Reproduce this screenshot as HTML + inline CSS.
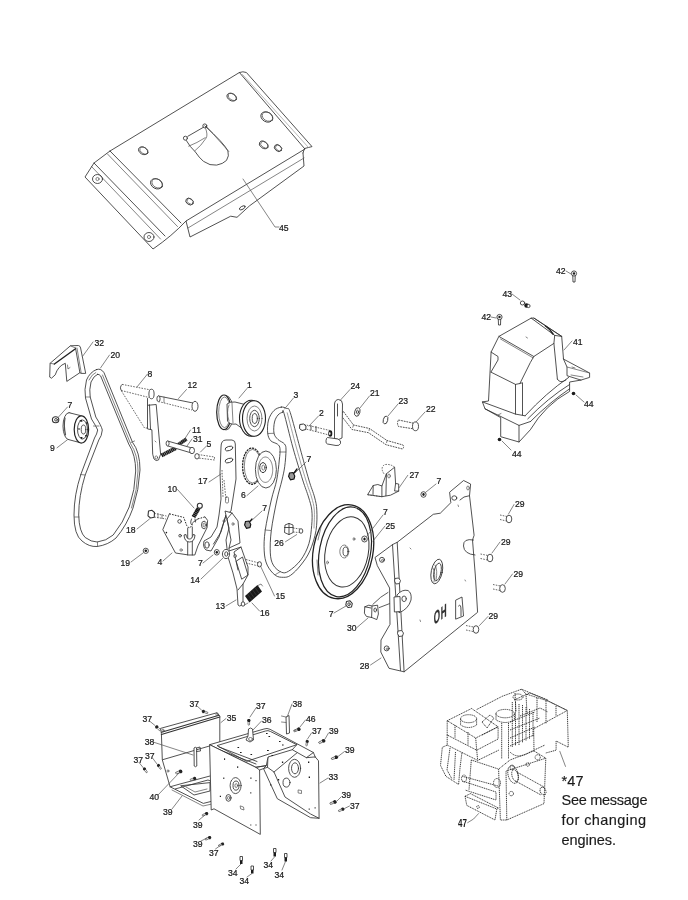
<!DOCTYPE html>
<html><head><meta charset="utf-8">
<style>
html,body{margin:0;padding:0;background:#fff;}
body{width:688px;height:900px;overflow:hidden;position:relative;}
svg{position:absolute;left:0;top:0;will-change:transform}
.l{fill:none;stroke:#333;stroke-width:0.85;stroke-linejoin:round;stroke-linecap:round}
.lt{fill:none;stroke:#505050;stroke-width:0.7;stroke-linejoin:round;stroke-linecap:round}
.f{fill:#fff;stroke:#333;stroke-width:0.85;stroke-linejoin:round}
.d{fill:none;stroke:#444;stroke-width:0.8;stroke-dasharray:1.6 1.2}
.k{fill:#1a1a1a;stroke:none}
text{font-family:"Liberation Sans",sans-serif;font-size:9.8px;letter-spacing:0;fill:#1a1a1a;stroke:#1a1a1a;stroke-width:0.25px}
.big{font-size:14.5px;letter-spacing:0;fill:#1a1a1a;stroke-width:0.15px}
</style></head><body>
<svg width="688" height="900" viewBox="0 0 688 900">
<!-- ===== PART 45 plate ===== -->
<g id="p45">
<path class="l" d="M110,151 L239.4,72.5 L304.5,148.5 L303,153"/>
<path class="l" d="M239.4,72.5 Q243,71 246.4,72.5 L312,146.6 L304.5,148.5"/>
<path class="lt" d="M242.5,74.5 L308.5,147.5" style="stroke:#999"/>
<path class="l" d="M305,149 L186,221 L190,237 L230.7,216.2 L237,217.3 L249.7,205.7 L304,166 L303,153"/>
<path class="lt" d="M304,158 L188,228"/>
<path class="l" d="M110,151 L181,223"/><path class="lt" d="M107.5,154 L177.5,226.5"/>
<path class="l" d="M94,163 L165,236"/><path class="lt" d="M91.5,166.5 L160.5,239"/>
<path class="l" d="M110,151 L94,163 L85,177 L153,249 Q172,236 186,221"/>
<ellipse class="l" cx="97.5" cy="179" rx="5" ry="4.5"/>
<ellipse class="lt" cx="97.5" cy="179" rx="1.6" ry="1.6"/>
<ellipse class="l" cx="149" cy="237" rx="5" ry="4.5"/>
<ellipse class="lt" cx="149" cy="237" rx="1.6" ry="1.6"/>
<g transform="rotate(30 143.2 150.8)"><ellipse class="l" cx="143.2" cy="150.8" rx="5" ry="3.5"/><ellipse class="lt" cx="143.7" cy="150.2" rx="4.5" ry="3"/></g>
<g transform="rotate(30 156.5 183.8)"><ellipse class="l" cx="156.5" cy="183.8" rx="6.3" ry="4.8"/><ellipse class="lt" cx="157" cy="183.1" rx="5.7" ry="4.2"/></g>
<g transform="rotate(35 189.5 201.6)"><ellipse class="l" cx="189.5" cy="201.6" rx="4" ry="3"/><ellipse class="lt" cx="190" cy="201" rx="3.5" ry="2.5"/></g>
<g transform="rotate(30 231.7 97.2)"><ellipse class="l" cx="231.7" cy="97.2" rx="5.1" ry="3.5"/><ellipse class="lt" cx="232.2" cy="96.6" rx="4.6" ry="3"/></g>
<g transform="rotate(30 266.8 117)"><ellipse class="l" cx="266.8" cy="117" rx="6.3" ry="4.8"/><ellipse class="lt" cx="267.3" cy="116.3" rx="5.7" ry="4.2"/></g>
<g transform="rotate(35 263.7 145)"><ellipse class="l" cx="263.7" cy="145" rx="4.8" ry="3.3"/><ellipse class="lt" cx="264.2" cy="144.4" rx="4.2" ry="2.8"/></g>
<g transform="rotate(40 278 148.1)"><ellipse class="l" cx="278" cy="148.1" rx="4" ry="3"/><ellipse class="lt" cx="278.5" cy="147.6" rx="3.5" ry="2.5"/></g>
<path class="l" d="M186.3,140.5 Q190,147 195.3,151.9 Q199,157.5 203.4,161.3 Q210,166 216.6,165.1 Q223,164 226.5,160.4 Q229.5,156 227.9,150.9 Q224,143 204.8,125.9"/>
<path class="lt" d="M206.5,126.5 L228.8,151.5"/>
<path class="l" d="M187.8,136.3 L203.4,127.3"/>
<circle class="l" cx="185.4" cy="138.2" r="2"/>
<circle class="l" cx="204.8" cy="125.9" r="2"/>
<path class="lt" d="M205.5,128 Q208,135 206.2,138 Q201,146 194.8,150.9 M188.7,146.2 Q197,143 205.2,137.7"/>
<ellipse class="l" cx="242.3" cy="207.8" rx="3.2" ry="1.5" transform="rotate(-30 242.3 207.8)"/>
<path class="lt" d="M243,179 L275,227 L279,227"/>
<text class="lb" transform="translate(279.0 230.5) scale(0.88 1)">45</text>
</g>

<!-- ===== PART 41-44 housing ===== -->
<g id="p41">
<text class="lb" transform="translate(556.0 273.5) scale(0.88 1)">42</text>
<path class="lt" d="M566,271 L571,274"/>
<circle class="f" cx="574" cy="273.5" r="2.6"/>
<circle class="k" cx="574" cy="273.5" r="1.2"/>
<path class="l" d="M572.8,276 L573,282 L575,282 L575.2,276"/>
<text class="lb" transform="translate(502.5 297.0) scale(0.88 1)">43</text>
<path class="lt" d="M512,294 L520,300"/>
<ellipse class="l" cx="522.5" cy="303" rx="2.2" ry="2"/>
<circle class="k" cx="526.5" cy="305.5" r="2.2"/>
<circle class="f" cx="528.5" cy="306" r="1.6"/>
<text class="lb" transform="translate(481.5 320.0) scale(0.88 1)">42</text>
<path class="lt" d="M491,317 L496,318"/>
<circle class="f" cx="499.5" cy="317" r="2.6"/>
<circle class="k" cx="499.5" cy="317" r="1.2"/>
<path class="l" d="M498.3,319.5 L498.5,325 L500.5,325 L500.7,319.5"/>
<!-- housing -->
<path class="f" d="M498.9,336.4 L531.2,318.1 L534,318.1 L561.7,336.4 L563.5,359.1 L589.6,373 L589.6,377.4 L580.9,380.1 L569.6,382 L569.6,391.4 Q545,405 530.3,429.8 L519,442 L500.7,436.7 L500.7,417.6 L485,408.8 L482.4,401.9 L488.5,401 L491.1,352.1 Z"/>
<path class="l" d="M498.9,336.4 L533.8,356.5 L553.9,343.4 L554.7,335.4 L531.2,318.1"/>
<path class="lt" d="M500.5,339 L533,357.8"/>
<path class="l" d="M534,318.1 L561.7,336.4 M554.7,335.4 L561.7,336.4 M553.9,343.4 L557.4,379.2"/><path class="l" d="M545.5,326 Q550,329 553,334" style="stroke-width:1.5;stroke:#222"/>
<path class="l" d="M533.8,356.5 L530.3,362.6 L519.9,383.5 L515.5,384.4 L491.1,372.2"/>
<path class="l" d="M519.9,383.5 L522.5,382.7 L522.5,415 M515.5,384.4 L515.5,414.1"/>
<path class="l" d="M491.1,352.1 L498,356.5 L498,360 L491,372"/>
<path class="l" d="M482.4,401.9 L515.5,414.1 L525.1,415.8"/>
<path class="l" d="M485,408.8 L519,425.4 L530.5,421.5 M519,425.4 L519,442"/>
<path class="l" d="M525.1,415.8 Q546,393 568.7,377.4 M527.8,418.8 Q548,398 569.6,384.5 M530.5,421.5 Q550,402 569.6,388.8"/>
<path class="l" d="M557.4,379.2 Q560,384 566,380 M563.5,359.1 L567,367 L567,375.7 L580.9,380.1"/>
<path class="lt" d="M567,367 L589.6,373 M571,375 L583,377"/>
<path class="lt" d="M526,337 L527.5,338 M498,415 L501,413.5 M572,367 L575,368"/>
<text class="lb" transform="translate(573.0 344.5) scale(0.88 1)">41</text>
<path class="lt" d="M572,341 L564,350"/>
<text class="lb" transform="translate(584.0 406.5) scale(0.88 1)">44</text>
<path class="lt" d="M576,395 L584,402"/>
<circle class="k" cx="573.5" cy="393.5" r="1.8"/>
<text class="lb" transform="translate(512.0 456.5) scale(0.88 1)">44</text>
<path class="lt" d="M502,441 L511,450"/>
<circle class="k" cx="499.5" cy="439.5" r="1.8"/>
</g>

<!-- ===== left group 32, 20, 9, 7, 8, 12, 11, 31, 5 ===== -->
<g id="pleft">
<path class="f" d="M50.1,363.3 L70.4,345.8 L78.4,345.5 Q80.5,346 80.6,348 L85.7,373.4 L81.3,373.4 L79.9,372.7 L66.8,381.4 L65.3,363.3 Q58,366 55.2,374.9 L51.5,378.2 L49.7,377.1 Z"/>
<path class="l" d="M54.4,364 L75.5,348.7" style="stroke-width:1.4;stroke:#222"/>
<path class="l" d="M75.5,348 L79.9,372.7"/>
<path class="lt" d="M77,348 L81.3,373.4 M50.1,363.3 L54.4,364 M70.4,345.8 L75.5,348"/>
<path class="lt" d="M67.5,365 L68,369 L70,367.5"/>
<text class="lb" transform="translate(94.5 345.5) scale(0.88 1)">32</text>
<path class="lt" d="M93,342 L82.8,356"/>
<!-- belt 20 -->
<path class="l" d="M96.6,369.5 Q90,372 86.5,380 Q84,390 85.5,398 L91.5,419 Q96,426 97.7,430 Q97,434 94.5,438 L81,474 Q74,495 74,515 Q74,535 82,541 Q89,547 97,546.5 Q108,545 116,538 Q127,525 133,508 Q139,490 140,470 Q140,452 132.5,442.3 L104,372.7 Q101,368 96.6,369.5 Z"/>
<path class="l" d="M97.5,374.3 Q94,375.5 91,382 Q89,390 90.2,397 L95.8,417 Q101.5,426 102.3,430 Q101.8,436 98.8,440 L85.2,475 Q78.7,496 78.7,515 Q79.2,532 85.2,537.5 Q91.2,542 97.2,542 Q106.2,541 113.2,535 Q123.2,523 129.2,507 Q135.2,490 135.7,471 Q135.7,455 128.7,444 L100.7,376 Q99.2,374 97.5,374.3 Z"/>
<path class="lt" d="M102.5,375 L130.5,443.5 Q138,455 138,471 Q137.5,490 131.5,508 M95.8,372.5 Q92,374 89,380"/>
<path class="lt" d="M85.5,397 L90.2,397 M93.5,426 L99,426 M80.5,474.5 L85,475 M74.5,517 L79,517 M97.5,546 L97.5,542 M131,442.5 L134.5,441"/>
<text class="lb" transform="translate(110.5 357.5) scale(0.88 1)">20</text>
<path class="lt" d="M109.5,355 L100.5,368"/>
<!-- pulley 9 -->
<ellipse class="f" cx="69" cy="426.2" rx="6" ry="13.5"/>
<path d="M69,412.7 L81.4,415.8 L81.4,443 L69,439.7 Z" fill="#fff"/>
<path class="l" d="M69,412.7 L81.4,415.8 M69,439.7 L81.4,443"/>
<path class="lt" d="M65,418 Q63.5,426 65.5,435" style="stroke-width:1.2"/>
<ellipse class="f" cx="81.4" cy="429.4" rx="7.2" ry="13.6" style="stroke-width:1.2;stroke:#222"/>
<ellipse class="l" cx="82.5" cy="429.5" rx="5" ry="9.5"/>
<ellipse class="l" cx="83.5" cy="429.5" rx="2.3" ry="4.5"/>
<path class="k" d="M79,421 l2.5,-1.5 l1,2.5 z M80,437 l2.5,0 l-0.5,2.5 z M85.5,423 l1.5,-1 l0.5,2.5 z M85,435 l2,0 l-1,2.5 z M78.5,428 l1,0 l0,2 l-1,0 z"/>
<text class="lb" transform="translate(67.5 407.5) scale(0.88 1)">7</text>
<path class="lt" d="M67.5,407 L58.5,417"/>
<ellipse class="f" cx="55.6" cy="419.8" rx="3.2" ry="3" style="stroke-width:1.1"/>
<ellipse class="l" cx="56" cy="419.8" rx="1.4" ry="1.3"/>
<text class="lb" transform="translate(50.0 451.0) scale(0.88 1)">9</text>
<path class="lt" d="M57,447.8 L67.4,439.8"/>
<!-- part 8 -->
<path class="d" d="M122.2,384.4 L151,390 M121.3,390.5 L149,397.5 M121.5,391 L144.5,428 L147,428"/>
<path class="l" d="M122.2,384.4 Q119,387 121.3,390.5"/>
<ellipse class="f" cx="151.5" cy="394" rx="2.6" ry="4.8"/>
<path class="f" d="M147.5,405.3 L156.2,404.5 L160.6,454.2 L158.5,460 Q156,461.5 154,459 L152.7,454.2 L151.9,429.8 L147.5,428.9 Z"/>
<path class="l" d="M147.5,398.5 L147.5,405.3 M149.5,404.8 L150.5,429.2"/>
<ellipse class="lt" cx="156.3" cy="457.5" rx="1.3" ry="1.6"/>
<path class="lt" d="M155,441 l1,1"/>
<text class="lb" transform="translate(147.5 376.5) scale(0.88 1)">8</text>
<path class="lt" d="M147.5,374 L137,387"/>
<!-- part 12 -->
<path class="l" d="M158.5,396 L193,403"/>
<path class="d" d="M158.5,401.5 L192,410"/>
<ellipse class="f" cx="158.5" cy="398.8" rx="1.6" ry="2.9"/>
<ellipse class="f" cx="195" cy="406.3" rx="3" ry="5"/>
<path class="lt" d="M164,397 L164,402.5"/>
<text class="lb" transform="translate(187.5 388.0) scale(0.88 1)">12</text>
<path class="lt" d="M186.5,389.5 L178.5,398.5"/>
<!-- 11 31 springs -->
<path d="M177,445.5 L186.5,439" stroke="#1a1a1a" stroke-width="3.6" fill="none" stroke-dasharray="1.5 0.3"/>
<path d="M161.5,455.5 L176,448" stroke="#1a1a1a" stroke-width="4" fill="none" stroke-dasharray="1.5 0.3"/>
<path class="f" d="M167.6,441 L192,448 L191.5,453 L167.3,445.8 Z"/>
<ellipse class="f" cx="167.6" cy="443.4" rx="1.5" ry="2.5"/>
<ellipse class="f" cx="192" cy="450.5" rx="2.5" ry="3.2"/>
<text class="lb" transform="translate(192.0 432.5) scale(0.88 1)">11</text>
<path class="lt" d="M190.5,430 L184,440"/>
<text class="lb" transform="translate(193.0 441.5) scale(0.88 1)">31</text>
<path class="lt" d="M192,439 L187,446"/>
<!-- bolt 5 -->
<path class="d" d="M198,454.5 L214.5,457 L214.5,460 L198,458"/>
<ellipse class="f" cx="197" cy="456.3" rx="2.2" ry="2.7"/>
<text class="lb" transform="translate(206.5 446.5) scale(0.88 1)">5</text>
<path class="lt" d="M206.5,446 L200.5,452"/>
</g>

<!-- ===== middle group 1, 3, 6, 17, 10, 18, 4, 19, 14, 13, 16, 15, 26 ===== -->
<g id="pmid">
<!-- pulley 1 -->
<ellipse class="f" cx="226" cy="412.8" rx="7.3" ry="17.2"/>
<ellipse class="f" cx="224" cy="412.3" rx="7.3" ry="17.3" style="stroke-width:1.2;stroke:#222"/><ellipse class="lt" cx="224.5" cy="412.3" rx="5.8" ry="15.3"/>
<path class="f" d="M227,404 Q230,401.5 235,402 L247,405 L247,432 L236,424 Q230,425 227.5,421 Z"/>
<path class="lt" d="M229,405 Q226,412 229,421 M232,403 L233,423"/>
<ellipse class="f" cx="251.3" cy="418.3" rx="11.8" ry="18" style="stroke-width:1.1;stroke:#222"/>
<ellipse class="f" cx="254" cy="418.5" rx="11.5" ry="17.8" style="stroke-width:1.1;stroke:#222"/>
<ellipse class="lt" cx="254.5" cy="418.5" rx="7.5" ry="12.5"/>
<ellipse class="l" cx="254.5" cy="418.5" rx="4.8" ry="8.2"/>
<ellipse class="l" cx="254.8" cy="418.5" rx="2.6" ry="5"/>
<text class="lb" transform="translate(247.0 387.5) scale(0.88 1)">1</text>
<path class="lt" d="M247,388.5 L239,398"/>
<!-- belt 3 -->
<path class="l" d="M281.3,407.1 C283.4,406.8 285.0,407.6 286.5,408.5 C288.0,409.4 287.9,405.8 290.2,412.4 C292.4,419.0 296.9,436.7 300.0,448.0 C303.1,459.3 306.5,471.8 308.9,480.0 C311.3,488.2 313.2,492.0 314.5,497.0 C315.8,502.0 316.6,504.6 316.8,510.2 C317.1,515.8 317.1,523.7 316.0,530.5 C314.9,537.3 312.4,545.1 309.9,550.9 C307.4,556.7 304.0,561.0 300.8,565.1 C297.6,569.2 293.5,573.3 290.6,575.3 C287.7,577.3 286.1,577.3 283.5,577.3 C280.9,577.3 278.0,577.3 275.3,575.3 C272.6,573.3 269.1,569.2 267.2,565.1 C265.3,561.0 264.5,556.7 264.2,550.9 C263.9,545.1 264.0,539.0 265.2,530.5 C266.4,522.0 269.4,508.4 271.3,500.0 C273.2,491.6 275.4,486.7 276.7,480.0 C278.0,473.3 278.8,465.2 279.3,460.0 C279.9,454.8 280.3,451.3 280.0,448.7 C279.7,446.1 279.1,445.5 277.5,444.2 C275.9,442.9 272.3,442.5 270.7,440.7 C269.1,438.9 268.1,436.8 267.7,433.3 C267.3,429.9 267.4,423.8 268.5,420.0 C269.6,416.2 271.9,412.6 274.0,410.5 C276.1,408.4 279.2,407.4 281.3,407.1 Z"/>
<path class="l" d="M282.5,412.3 C283.5,412.0 282.2,407.4 284.0,413.3 C285.8,419.2 289.9,436.9 293.0,448.0 C296.1,459.1 300.1,471.8 302.7,480.0 C305.3,488.2 307.0,492.0 308.5,497.0 C310.0,502.0 311.3,505.5 311.8,510.2 C312.3,514.9 312.2,519.8 311.7,525.4 C311.2,531.0 310.7,537.9 308.9,543.7 C307.1,549.5 304.2,555.4 300.8,560.0 C297.4,564.6 291.8,569.2 288.6,571.2 C285.4,573.2 283.9,573.2 281.4,572.2 C278.8,571.2 275.1,568.3 273.3,565.1 C271.5,561.9 270.6,558.7 270.3,552.9 C270.0,547.1 270.2,539.3 271.3,530.5 C272.4,521.7 275.1,508.4 276.9,500.0 C278.7,491.6 280.7,485.6 282.0,480.0 C283.3,474.4 284.0,471.7 284.7,466.7 C285.4,461.7 286.0,453.8 286.0,450.0 C286.0,446.2 285.8,445.8 284.5,444.0 C283.2,442.2 279.8,441.3 278.0,439.5 C276.2,437.7 274.6,436.2 274.0,433.3 C273.4,430.4 273.8,425.1 274.5,422.0 C275.2,418.9 276.7,416.6 278.0,415.0 C279.3,413.4 281.5,412.6 282.5,412.3 Z"/>
<path class="lt" d="M287.2,412.8 C288.8,418.7 293.4,436.8 296.5,448.0 C299.6,459.2 303.3,471.8 305.8,480.0 C308.3,488.2 310.1,492.0 311.5,497.0 C312.9,502.0 313.9,504.8 314.3,510.0 C314.7,515.2 314.1,525.0 314.0,528.0" style="stroke:#777"/>
<path class="lt" d="M267.8,433.5 L274,433.3 M279.5,452 L285.8,452 M265,530 L271,530.5 M275.5,574.5 L280.5,571.5"/>
<text class="lb" transform="translate(293.5 398.0) scale(0.88 1)">3</text>
<path class="lt" d="M293.5,398 L284.5,409"/>
<!-- pulley 6 -->
<ellipse cx="252.1" cy="466.2" rx="9.5" ry="18.1" fill="#fff" stroke="#222" stroke-width="1.3" stroke-dasharray="2.2 0.8"/>
<ellipse class="lt" cx="252.6" cy="466.2" rx="8.3" ry="16.8"/>
<ellipse class="f" cx="265.9" cy="469.5" rx="10.5" ry="18.5"/>
<ellipse class="lt" cx="265.4" cy="469.7" rx="7.3" ry="12.7" style="stroke-dasharray:1.5 0.8"/>
<ellipse class="l" cx="263" cy="467.6" rx="3.3" ry="5" style="stroke-width:1"/>
<ellipse class="lt" cx="263.3" cy="467.6" rx="1.5" ry="2.5"/>
<text class="lb" transform="translate(241.0 497.5) scale(0.88 1)">6</text>
<path class="lt" d="M247,495.5 L258,486"/>
<!-- part 17 -->
<path class="f" d="M221,447 Q221,440 226,440 L232,440 Q235.5,440.5 235.3,444 L236,479 L231,511 L226,515 L219,537 L211,551 L206,550 Q202.5,547 204,541 L211,537 L217,527 L219,515 L221,499 L220,473 Z"/>
<path class="l" d="M226,515 L221,532 L213.5,544"/>
<ellipse class="l" cx="207" cy="545" rx="2.2" ry="3.2"/>
<ellipse class="l" cx="229" cy="448.5" rx="4" ry="2.1" transform="rotate(-18 229 448.5)"/>
<ellipse class="l" cx="229" cy="460.5" rx="4" ry="2.1" transform="rotate(-18 229 460.5)"/>
<path class="d" d="M222,470 L223,497 M224,480 L226,500"/>
<rect class="lt" x="225.5" y="497" width="3" height="6" rx="1.2"/>
<ellipse class="lt" cx="224" cy="521" rx="1" ry="1.3"/>
<text class="lb" transform="translate(198.0 484.0) scale(0.88 1)">17</text>
<path class="lt" d="M209,482 L221,474"/>
<!-- part 13 -->
<path class="f" d="M225,511 L232,513 L238,521 L240,543 L229,548 L229,551 L241,547 L248,567 L248,575 L243,584 L243,603 Q242,606 239.5,606 L238,605 L237,589 L233,573 L228,557 L226,540 L229,528 Z"/>
<path class="l" d="M232,513 L227,519 L231,540 L229,548 M241,547 L234,552 L238,570 M243,584 L238,590"/>
<path class="l" d="M236.5,561 L242.5,557 L248,575 L242,579 Z"/>
<ellipse class="lt" cx="235" cy="556" rx="1.3" ry="1.8"/>
<ellipse class="lt" cx="233" cy="524" rx="1" ry="1.4"/>
<!-- washer 14, nut 7 -->
<ellipse class="f" cx="226" cy="554" rx="3.6" ry="4.6"/>
<ellipse class="l" cx="226.3" cy="554" rx="1.6" ry="2.2"/>
<ellipse class="f" cx="216.8" cy="552.3" rx="2.5" ry="2.8"/>
<ellipse class="k" cx="216.8" cy="552.3" rx="1.2" ry="1.4"/>
<text class="lb" transform="translate(198.0 566.0) scale(0.88 1)">7</text>
<path class="lt" d="M203,563 L213,555"/>
<text class="lb" transform="translate(190.3 582.5) scale(0.88 1)">14</text>
<path class="lt" d="M201,579 L223,558"/>
<!-- pin 15 -->
<path class="d" d="M246,559.5 L259,563 M246,563 L258.5,566"/>
<ellipse class="f" cx="259.5" cy="564.3" rx="2" ry="2.6"/>
<text class="lb" transform="translate(275.5 599.0) scale(0.88 1)">15</text>
<path class="lt" d="M274.5,596 L260.5,566"/>
<!-- spring 16 -->
<path class="k" d="M245,596 L257.5,585 L262,591.5 L249.5,602.5 Z"/>
<path d="M247.5,594 l4,5.5 M250,592 l4,5.5 M252.5,589.8 l4,5.5 M255,587.6 l4,5.5" stroke="#666" stroke-width="0.35" fill="none"/>
<path class="lt" d="M258,585.5 L261,584 L262.5,586 M248,603 L244.5,605"/>
<ellipse class="f" cx="243" cy="604" rx="1.8" ry="2.2"/>
<text class="lb" transform="translate(215.5 609.0) scale(0.88 1)">13</text>
<path class="lt" d="M226,606 L236,600"/>
<text class="lb" transform="translate(260.0 615.5) scale(0.88 1)">16</text>
<path class="lt" d="M259.5,611 L252,603"/>
<!-- part 4 -->
<path class="f" d="M169.4,513.8 L183.7,517.4 L186.7,525.5 Q188.5,528 189.8,527.6 Q191.5,527 192.8,522.5 L197.9,518.9 L205,516.9 L207.6,520.4 L207.1,527.6 L197.9,545.9 L194.8,555 L188.7,555 L175.5,553 L162.8,529.6 Z" style="stroke:#fff"/>
<path class="l" d="M192.8,522.5 L197.9,518.9 M205,516.9 L207.6,520.4 L207.1,527.6 L197.9,545.9 L194.8,555 L188.7,555 L175.5,553 L162.8,529.6 L169.4,513.8"/>
<path class="d" d="M169.4,513.8 L183.7,517.4 L186.7,525.5 Q188.5,528 189.8,527.6 Q191.5,527 192.8,522.5 M197.9,518.9 L205,516.9" style="stroke:#222;stroke-width:1"/>
<path class="l" d="M187.7,528 L187.7,555 M192.3,527 L192.3,555"/>
<path class="f" d="M184,535 Q184.5,542 189.5,542 Q194.5,542 195,535 L193,534.5 Q192.5,539 189.5,539 Q186.5,539 186,534.5 Z"/>
<circle class="l" cx="179.6" cy="521.4" r="1.8"/>
<circle class="k" cx="166.4" cy="532.6" r="0.8"/>
<circle class="l" cx="180.1" cy="535.7" r="1.3"/>
<circle class="lt" cx="181.1" cy="550" r="1.2"/>
<ellipse class="l" cx="204" cy="525" rx="2.5" ry="3.8"/>
<ellipse class="lt" cx="204.2" cy="525" rx="1.2" ry="2"/>
<text class="lb" transform="translate(157.6 565.0) scale(0.88 1)">4</text>
<path class="lt" d="M163,561 L172,553"/>
<!-- spring 10 -->
<path d="M193.5,517 L198.5,508.5" stroke="#111" stroke-width="4.2" fill="none" stroke-dasharray="1.5 0.25"/>
<ellipse class="l" cx="199.8" cy="505.8" rx="2.5" ry="2.6" style="stroke-width:1.1"/>
<path class="l" d="M191.5,519 Q189.5,524 192,525 M195,519 L195.5,522"/>
<text class="lb" transform="translate(167.5 492.0) scale(0.88 1)">10</text>
<path class="lt" d="M177.5,489.5 L194,508"/>
<!-- bolt 18 -->
<path class="d" d="M154.2,513.3 L166.4,516 M154.2,517 L166,519"/>
<path class="lt" d="M158,513.5 L158,517.8 M162,514.5 L162,518.5"/>
<path class="f" d="M148.5,511 L152,510.3 L154.5,512.5 L154.2,517.3 L150.5,518 L148,515.8 Z" style="stroke-width:1.1"/>
<text class="lb" transform="translate(126.0 532.5) scale(0.88 1)">18</text>
<path class="lt" d="M137,529 L149.5,519"/>
<!-- nut 19 -->
<ellipse class="f" cx="145.8" cy="550.8" rx="2.6" ry="2.6"/>
<ellipse class="k" cx="145.8" cy="550.8" rx="1.3" ry="1.3"/>
<text class="lb" transform="translate(120.5 566.0) scale(0.88 1)">19</text>
<path class="lt" d="M131,562 L143,553"/>
<!-- nut 7 (left of 26) -->
<path d="M245.5,521.5 L249,521 L250.8,524.5 L250,527.5 L246.5,528.3 L244.6,525 Z" fill="#999" stroke="#111" stroke-width="1.1"/><path class="l" d="M250,521.5 L252,519" style="stroke-width:1.3;stroke:#111"/>
<text class="lb" transform="translate(262.3 510.5) scale(0.88 1)">7</text>
<path class="lt" d="M262,511 L250,522"/>
<!-- nut 7 right of belt -->
<path d="M289.5,473 L293,472.5 L294.8,476 L294,479 L290.5,479.8 L288.6,476.5 Z" fill="#999" stroke="#111" stroke-width="1.1"/><path class="l" d="M294,473 L297,469" style="stroke-width:1.3;stroke:#111"/>
<text class="lb" transform="translate(306.5 462.0) scale(0.88 1)">7</text>
<path class="lt" d="M306,462 L295,473"/>
<!-- part 26 -->
<path class="f" d="M285,525 L289,523.4 L293,525 L293.1,532.5 L289,534.6 L284.5,532.5 Z"/>
<path class="l" d="M289,523.4 L289,534.6 M284.5,527.5 L293,527.5"/>
<path class="d" d="M293,528 L300,529 M293,532 L300,532.6"/>
<ellipse class="f" cx="301" cy="531" rx="1.8" ry="2.3"/>
<text class="lb" transform="translate(274.3 545.5) scale(0.88 1)">26</text>
<path class="lt" d="M285.5,541.7 L296.7,534.6"/>
</g>

<!-- ===== right-mid group 2, 24, 21, 23, 22, 27, 25, 28, 29, 30 ===== -->
<g id="pright">
<!-- bolt 2 -->
<path class="d" d="M304,424.5 L330,430.5 M304,428.5 L329,435"/>
<path class="f" d="M299.8,424.5 L303.5,424 L306,426 L305.8,429.5 L302,430.5 L299.5,428.5 Z" style="stroke-width:1"/>
<path class="l" d="M311,425.5 L311,430 M316,426.5 L316,431"/>
<ellipse class="k" cx="330.3" cy="433.5" rx="2" ry="3.3"/><ellipse cx="329.8" cy="433.5" rx="0.7" ry="1.6" fill="#fff"/>
<text class="lb" transform="translate(319.0 415.5) scale(0.88 1)">2</text>
<path class="lt" d="M318.5,416 L309,426"/>
<!-- part 24 -->
<path d="M341.5,416 L352,429.5 L368.5,432.7 L386,444.7 L402.5,449 Q404.5,447 403,445 L387,440.5 L369.5,428.5 L353.5,425 L343,411 Z" fill="#fff" stroke="#333" stroke-width="0.85" stroke-dasharray="1.8 0.9"/>
<path class="lt" d="M352.8,427.3 L353.5,425 M369.1,430.6 L369.5,428.5 M386.6,442.6 L387,440.5"/>
<path class="f" d="M334.5,438.5 L334.5,404 Q335,399.5 338.7,399.5 Q342.5,400 342.5,404 L342,438 Q338.5,441 334.5,438.5 Z"/>
<path class="l" d="M337.5,404 L337.5,416"/>
<path class="f" d="M327.5,437.5 L338,439 Q341.5,440.5 340.5,443.5 Q339.5,446 336,445.5 L327.5,444 Q325.5,443.5 326,440.5 Q326.5,437.5 327.5,437.5 Z"/>
<text class="lb" transform="translate(350.5 388.5) scale(0.88 1)">24</text>
<path class="lt" d="M350,389.5 L340.5,400"/>
<!-- washers -->
<ellipse class="f" cx="357.3" cy="412" rx="2.6" ry="4.4" transform="rotate(15 357.3 412)"/>
<ellipse class="l" cx="357.5" cy="412" rx="1" ry="1.8"/>
<text class="lb" transform="translate(370.0 395.6) scale(0.88 1)">21</text>
<path class="lt" d="M369.5,396 L360,408"/>
<ellipse class="f" cx="385.5" cy="420" rx="2.2" ry="4" transform="rotate(15 385.5 420)"/>
<text class="lb" transform="translate(398.5 404.2) scale(0.88 1)">23</text>
<path class="lt" d="M398,404 L388,416"/>
<!-- pin 22 -->
<path d="M398.5,420 L415,423.5 L414.5,429 L398.5,426.5 Q396.5,423 398.5,420 Z" fill="#fff" stroke="#333" stroke-width="0.85" stroke-dasharray="1.8 0.9"/>
<ellipse class="f" cx="415.5" cy="426.3" rx="3" ry="4.4"/>
<text class="lb" transform="translate(426.0 411.8) scale(0.88 1)">22</text>
<path class="lt" d="M425,412 L416,422"/>
<!-- part 27 -->
<path class="f" d="M367.6,494.7 L373.2,485.5 L377.8,484.5 L381.9,486 L386.4,473.8 L394.6,467.2 L395.6,483.5 L398.7,484 L398.7,491.1 L390.5,495.2 L381.9,496.7 Z"/>
<path class="l" d="M381.9,486 L381.9,496.7 M386.4,473.8 L385.9,495.7 M373.2,485.5 L373,494.5 M395.6,483.5 L394.6,491 L398.7,491.1"/>
<path class="d" d="M384,473.8 Q380,468 384.4,464.7 Q390,463.5 394.6,467.2 M367.6,494.7 L381.9,496.7"/>
<ellipse class="lt" cx="389" cy="476" rx="1.3" ry="2"/>
<text class="lb" transform="translate(409.5 477.5) scale(0.88 1)">27</text>
<path class="lt" d="M407.8,475.3 L399.2,487.6"/>
<!-- nut 7 -->
<ellipse class="f" cx="423.5" cy="494.5" rx="2.6" ry="2.8"/>
<ellipse class="k" cx="423.5" cy="494.5" rx="1.2" ry="1.4"/>
<text class="lb" transform="translate(436.5 484.0) scale(0.88 1)">7</text>
<path class="lt" d="M436,484 L426,492"/>
<!-- pulley 25 -->
<g transform="rotate(11 343 551.7)">
<ellipse class="l" cx="343.1" cy="551.7" rx="29.8" ry="47.5" style="stroke-width:1.3;stroke:#222"/>
<ellipse class="l" cx="345" cy="551.5" rx="25.5" ry="45.5" style="stroke-width:1.2;stroke:#222"/>
<ellipse class="l" cx="346.8" cy="551.2" rx="21.5" ry="35.5" style="stroke-width:1;stroke:#333"/>
</g>
<path class="lt" d="M318,540 L321,527 M317,560 L318,575"/>
<ellipse class="lt" cx="344.3" cy="551.5" rx="4.5" ry="6.5"/>
<ellipse class="l" cx="345.5" cy="551.5" rx="2.5" ry="4.5"/>
<ellipse class="lt" cx="354" cy="539" rx="0.9" ry="1.4"/>
<ellipse class="lt" cx="327.5" cy="562.5" rx="0.9" ry="1.4"/>
<ellipse class="f" cx="364.5" cy="539" rx="2.8" ry="3"/>
<ellipse class="k" cx="364.5" cy="539" rx="1.2" ry="1.5"/>
<text class="lb" transform="translate(383.0 515.0) scale(0.88 1)">7</text>
<path class="lt" d="M383,515 L367,536"/>
<text class="lb" transform="translate(385.5 528.5) scale(0.88 1)">25</text>
<path class="lt" d="M385,526 L373,541"/>
<path class="f" d="M346.5,601.5 L350,600.8 L352.3,603.5 L351.5,607 L348,607.5 L345.8,605 Z" style="stroke-width:1.1"/>
<ellipse class="l" cx="349" cy="604.2" rx="1.2" ry="1.5"/>
<text class="lb" transform="translate(328.8 617.0) scale(0.88 1)">7</text>
<path class="lt" d="M334,613 L346,606"/>
<!-- part 30 -->
<path class="lt" d="M372.8,604.4 Q381,596 388,592.4 M379.2,607.6 L389.6,603.6" style="stroke:#333;stroke-width:0.8"/>
<path class="f" d="M364.8,606.8 L368.8,605.2 L372,606 L377.6,605.2 L378.4,614 L376.8,619.6 L372,617.6 L366.4,616.4 L364.4,613.2 Z"/>
<path class="l" d="M372,606 L371.6,617.6 M364.8,606.8 L371,608"/>
<ellipse class="l" cx="375.2" cy="610" rx="1.3" ry="2"/>
<text class="lb" transform="translate(347.0 631.0) scale(0.88 1)">30</text>
<path class="lt" d="M357,627.5 L368,618"/>
<!-- plate 28 -->
<path class="f" d="M397.2,542.3 L433.3,514.3 L440.3,513.2 L450.8,502.7 L449.6,492.2 L463.6,480.5 L470.6,484 L469.5,495.7 L474.1,535.3 L472.5,540 L475.3,575 L477.6,612.3 L404.1,671.8 L389,668.3 L380.8,652 L381,640 L390,624.4 L389.6,588 L377.3,565.6 L375,557.5 L392.5,544.6 Z"/>
<path class="l" d="M392.5,544.6 L400.5,670.5 M397.2,542.3 L404.1,671.8"/>
<path class="l" d="M469.5,495.7 L464,497 L460,500"/>
<ellipse class="l" cx="436.8" cy="571.5" rx="5.5" ry="12.5" transform="rotate(12 436.8 571.5)"/>
<ellipse class="l" cx="437.5" cy="572" rx="3.5" ry="9" transform="rotate(12 437.5 572)"/>
<path class="lt" d="M435,565 Q438,570 436,580 M433,568 Q436,574 434,582"/>
<path class="l" d="M473.5,540 Q463,538 463.5,546 Q464,554 475,555"/>
<path class="l" d="M456,600 L462,597 L463.5,616 L456,619 Z M458.5,606 Q461,603 461,610 L461,616"/>
<text x="0" y="0" transform="translate(433.8 625) skewY(-36) scale(0.45 1)" style="font-size:18px;font-weight:bold;letter-spacing:1.5px;fill:#333">OH</text>
<path class="f" d="M397,595 Q402,589 408,590.5 Q412,593 411,600 Q408.5,609 399,612.8 Z"/>
<ellipse class="l" cx="404.1" cy="598.8" rx="2.2" ry="2.8"/>
<path class="f" d="M394,597 L400,596.5 L400.4,611.5 L394.4,612 Z"/>
<path class="f" d="M395,578.5 L398.5,578 L400.5,580.5 L399.5,583.5 L396,584 L394.5,581 Z"/>
<path class="f" d="M398,631 L401.5,630.5 L403.5,633 L402.5,636 L399,636.5 L397.5,633.5 Z"/>
<ellipse class="l" cx="382" cy="559.8" rx="2.5" ry="2.5"/>
<ellipse class="lt" cx="382.5" cy="560.3" rx="1" ry="1"/>
<ellipse class="l" cx="386.7" cy="648.4" rx="2.5" ry="2.5"/>
<ellipse class="lt" cx="387.2" cy="648.9" rx="1" ry="1"/>
<ellipse class="l" cx="454.3" cy="498" rx="2.5" ry="2.2"/>
<ellipse class="lt" cx="468" cy="488" rx="1.3" ry="2"/>
<path class="lt" d="M410,548 l1,1 M458,505 l0.5,1.5 M465,580 l0.5,1 M420,620 l0.5,1.5"/>
<text class="lb" transform="translate(359.8 668.5) scale(0.88 1)">28</text>
<path class="lt" d="M370.5,665 L381,658"/>
<!-- bolts 29 -->
<path class="d" d="M500,515 L507,516.5 M500,519.5 L506.5,521"/>
<ellipse class="f" cx="509" cy="519" rx="2.8" ry="3.8"/>
<text class="lb" transform="translate(515.0 507.0) scale(0.88 1)">29</text>
<path class="lt" d="M514,504.5 L508.5,514"/>
<path class="d" d="M480.5,554 L488,555.5 M480.5,558.5 L487.5,560"/>
<ellipse class="f" cx="490" cy="558" rx="2.8" ry="3.8"/>
<text class="lb" transform="translate(501.0 544.5) scale(0.88 1)">29</text>
<path class="lt" d="M500,542 L492,553"/>
<path class="d" d="M493,584.5 L500.5,586 M493,589 L500,590.5"/>
<ellipse class="f" cx="502.5" cy="588.5" rx="2.8" ry="3.8"/>
<text class="lb" transform="translate(513.5 576.5) scale(0.88 1)">29</text>
<path class="lt" d="M512.5,574 L505,584"/>
<path class="d" d="M466,625.5 L473.5,627 M466,630 L473,631.5"/>
<ellipse class="f" cx="476" cy="629.5" rx="2.8" ry="3.8"/>
<text class="lb" transform="translate(488.5 619.0) scale(0.88 1)">29</text>
<path class="lt" d="M488,616.5 L479.5,625.5"/>
</g>

<!-- ===== bottom group 33-40, 46 ===== -->
<g id="pbot">
<!-- part 35 shield -->
<path class="f" d="M160.5,728.4 L217.2,712.7 L219.8,716.2 L219.8,742.3 L210.2,745.8 L162.3,759.8 L161.4,733.6 Z"/>
<path class="l" d="M161.4,734.5 L219.8,717 M161.5,732.3 L219,715.3" style="stroke-width:1.1"/>
<ellipse class="lt" cx="163" cy="730.5" rx="1" ry="1.5"/>
<ellipse class="lt" cx="217" cy="714.5" rx="1" ry="1.5"/>
<text class="lb" transform="translate(226.8 721.4) scale(0.88 1)">35</text>
<path class="lt" d="M226,718.5 L221,722.5"/>
<!-- part 39 bottom plate -->
<path class="f" d="M162.3,759.8 L170.1,786.8 L203.3,803.4 L212.9,801 L212.9,782 L208,780 L175,789"/>
<path class="l" d="M170.1,786.8 L180,784 L210,776"/>
<path class="l" d="M181,786 L194,795 L210,791 L210,783 Z"/>
<path class="lt" d="M186,787 L195,792 L207,789"/>
<path class="lt" d="M172,790 L203,806 L212,804"/>
<ellipse class="lt" cx="168" cy="771" rx="0.9" ry="1.2"/>
<g transform="translate(194.5 778.5) rotate(-20) scale(0.9)"><path d="M-1.6,-1.3 L0.2,-2 L1.8,-1 L1.8,1.1 L0.2,2 L-1.6,1.3 Z" fill="#222"/><path d="M-1.6,-0.9 L-4.8,-0.8 Q-5.6,0 -4.8,0.8 L-1.6,0.9" fill="#fff" stroke="#333" stroke-width="0.65"/></g>
<!-- part 38 pin (left) -->
<path class="f" d="M194,748 Q195.3,746.5 196.6,748 L196.8,766 Q195.5,767.5 194.2,766 Z"/><path class="l" d="M196.5,748 L200,747 L200.5,751 L196.6,751.5"/>
<text class="lb" transform="translate(144.8 744.5) scale(0.88 1)">38</text>
<path class="lt" d="M153,742 L193,755"/>
<!-- housing 33 -->
<path class="f" d="M268,755.6 L292.3,747.7 L315.2,756.9 L318.5,760.8 L319.1,818.3 L310.6,817.7 L277.3,798.7 L270.1,783 L263.5,768.6 L267.5,767.3 Z"/>
<path class="l" d="M267.5,767.3 L274,772 L285,797 L310.6,814 L319.1,818.3 M274,772 L298,752 L315.2,756.9"/>
<path class="f" d="M209.6,744.7 L264,729 Q267,727.8 270,729.3 L313.4,752.5 L315.2,756.9 L306.4,757.7 L292.3,749.7 L268,757 L266.3,765.6 L255.8,767.3 Z"/>
<path class="l" d="M217.4,745.5 L265.5,731 Q268,730 270.5,731.5 L296.8,744.7 L266,755 L247.1,761.2 Z"/>
<path class="l" d="M216,748.5 L256,764 M219,747 L257,761.5"/>
<path class="l" d="M292.3,749.7 L296.8,744.7 M306.4,757.7 L313.4,752.5"/>
<path class="f" d="M209.6,744.7 L255.8,767.3 L259.6,770 L260.3,834.4 L214,808.8 L211.2,810 Z"/>
<path class="l" d="M255.8,767.3 L266.3,765.6 L263.5,768.6 L259.6,770"/>
<path class="k" d="M237.5,747 h1.6v1h-1.6z M240,752 h1.6v1h-1.6z M250.5,754 h1.6v1h-1.6z M267,750 h1.8v1h-1.8z M271.5,755 h1.6v1h-1.6z M279,741 h1.6v1h-1.6z M282,744.5 h1.6v1h-1.6z M266,733 h1.6v1h-1.6z M268.5,736 h1.6v1h-1.6z"/>
<ellipse class="l" cx="235.6" cy="785.6" rx="5.5" ry="8"/>
<ellipse class="l" cx="236" cy="785.6" rx="3" ry="4.6"/>
<ellipse class="lt" cx="236.2" cy="785.6" rx="1.3" ry="2"/>
<ellipse class="l" cx="228.5" cy="797.9" rx="2.6" ry="3.4"/>
<ellipse class="lt" cx="228.7" cy="797.9" rx="1.2" ry="1.6"/>
<path class="lt" d="M240.5,806 l3,1 l0.5,3 l-3,-1 z"/>
<ellipse class="l" cx="294.6" cy="768.3" rx="6" ry="9"/>
<ellipse class="l" cx="295" cy="768.3" rx="3.5" ry="5.5"/>
<ellipse class="l" cx="286.5" cy="782.6" rx="3.5" ry="4.5"/>
<path class="lt" d="M298.5,790 l3,0.5 l0,3 l-3,-0.5 z"/>
<path class="k" d="M224.1,758.3 h1v1.8h-1z M237.2,766.2 h1v1.8h-1z M223.3,777.5 h1v1.4h-1z M250.3,777.5 h1.2v1.2h-1.2z M255.5,780.1 h1v1.2h-1z M219.8,795.8 h1.2v1.3h-1.2z M250.3,792.3 h1v1.2h-1z M250.3,824.6 h1v1h-1z M255.5,824.6 h1v1h-1z M281.9,761.4 h1.3v1.5h-1.3z M308.0,761.4 h1.3v1.5h-1.3z M308.7,776.5 h1.3v1.5h-1.3z M277.9,779.1 h1.3v1.5h-1.3z M270.1,784.3 h1.2v1.3h-1.2z M308.7,808.5 h1v1.2h-1z M314.6,807.2 h1v1.2h-1z"/>
<!-- part 36 -->
<path class="f" d="M248.5,729 Q250.5,727 252.5,729 L253.5,740 L250,742 L246,740 L248,736 Z"/>
<ellipse class="lt" cx="250.5" cy="739" rx="2" ry="1.5"/>
<text class="lb" transform="translate(262.0 723.0) scale(0.88 1)">36</text>
<path class="lt" d="M261.5,721 L253,730"/>
<!-- part 38 right -->
<path class="f" d="M286,717 L289,715.5 L289.5,733 L286.5,734 Z"/>
<path class="lt" d="M281.5,716 L286,717 M281.5,722 L286,722.5"/>
<text class="lb" transform="translate(292.5 706.5) scale(0.88 1)">38</text>
<path class="lt" d="M292,704 L287.5,716"/>
<!-- screws -->
<g transform="translate(248.8 720.5) rotate(-90) scale(0.9)"><path d="M-1.6,-1.3 L0.2,-2 L1.8,-1 L1.8,1.1 L0.2,2 L-1.6,1.3 Z" fill="#222"/><path d="M-1.6,-0.9 L-4.8,-0.8 Q-5.6,0 -4.8,0.8 L-1.6,0.9" fill="#fff" stroke="#333" stroke-width="0.65"/></g>
<text class="lb" transform="translate(256.0 708.5) scale(0.88 1)">37</text>
<path class="lt" d="M256,708 L250,717"/>
<g transform="translate(298.7 729.3) rotate(-20) scale(1.0)"><path d="M-1.6,-1.3 L0.2,-2 L1.8,-1 L1.8,1.1 L0.2,2 L-1.6,1.3 Z" fill="#222"/><path d="M-1.6,-0.9 L-4.8,-0.8 Q-5.6,0 -4.8,0.8 L-1.6,0.9" fill="#fff" stroke="#333" stroke-width="0.65"/></g>
<path class="lt" d="M296,730 l-2,1"/>
<text class="lb" transform="translate(306.0 721.5) scale(0.88 1)">46</text>
<path class="lt" d="M305.5,720 L300,727"/>
<g transform="translate(307.2 741.5) rotate(-80) scale(0.85)"><path d="M-1.6,-1.3 L0.2,-2 L1.8,-1 L1.8,1.1 L0.2,2 L-1.6,1.3 Z" fill="#222"/><path d="M-1.6,-0.9 L-4.8,-0.8 Q-5.6,0 -4.8,0.8 L-1.6,0.9" fill="#fff" stroke="#333" stroke-width="0.65"/></g>
<text class="lb" transform="translate(312.0 734.0) scale(0.88 1)">37</text>
<path class="lt" d="M311.5,733 L307.5,739"/>
<g transform="translate(323.5 740.8) rotate(-25) scale(1.0)"><path d="M-1.6,-1.3 L0.2,-2 L1.8,-1 L1.8,1.1 L0.2,2 L-1.6,1.3 Z" fill="#222"/><path d="M-1.6,-0.9 L-4.8,-0.8 Q-5.6,0 -4.8,0.8 L-1.6,0.9" fill="#fff" stroke="#333" stroke-width="0.65"/></g>
<text class="lb" transform="translate(329.0 734.0) scale(0.88 1)">39</text>
<path class="lt" d="M328.5,733 L325,739"/>
<g transform="translate(336.2 757.2) rotate(-20) scale(1.0)"><path d="M-1.6,-1.3 L0.2,-2 L1.8,-1 L1.8,1.1 L0.2,2 L-1.6,1.3 Z" fill="#222"/><path d="M-1.6,-0.9 L-4.8,-0.8 Q-5.6,0 -4.8,0.8 L-1.6,0.9" fill="#fff" stroke="#333" stroke-width="0.65"/></g>
<text class="lb" transform="translate(345.0 753.0) scale(0.88 1)">39</text>
<path class="lt" d="M344.5,751.5 L338,756.5"/>
<text class="lb" transform="translate(328.5 779.5) scale(0.88 1)">33</text>
<path class="lt" d="M328,778 L320,783"/>
<g transform="translate(334.8 802) rotate(-20) scale(1.0)"><path d="M-1.6,-1.3 L0.2,-2 L1.8,-1 L1.8,1.1 L0.2,2 L-1.6,1.3 Z" fill="#222"/><path d="M-1.6,-0.9 L-4.8,-0.8 Q-5.6,0 -4.8,0.8 L-1.6,0.9" fill="#fff" stroke="#333" stroke-width="0.65"/></g>
<text class="lb" transform="translate(341.5 798.0) scale(0.88 1)">39</text>
<path class="lt" d="M341,797 L337,801"/>
<g transform="translate(342.7 809.2) rotate(-25) scale(0.9)"><path d="M-1.6,-1.3 L0.2,-2 L1.8,-1 L1.8,1.1 L0.2,2 L-1.6,1.3 Z" fill="#222"/><path d="M-1.6,-0.9 L-4.8,-0.8 Q-5.6,0 -4.8,0.8 L-1.6,0.9" fill="#fff" stroke="#333" stroke-width="0.65"/></g>
<text class="lb" transform="translate(350.0 808.5) scale(0.88 1)">37</text>
<path class="lt" d="M349.5,806 L344.5,808.5"/>
<!-- left screws -->
<g transform="translate(203.5 711.5) rotate(200) scale(0.9)"><path d="M-1.6,-1.3 L0.2,-2 L1.8,-1 L1.8,1.1 L0.2,2 L-1.6,1.3 Z" fill="#222"/><path d="M-1.6,-0.9 L-4.8,-0.8 Q-5.6,0 -4.8,0.8 L-1.6,0.9" fill="#fff" stroke="#333" stroke-width="0.65"/></g>
<text class="lb" transform="translate(189.5 707.0) scale(0.88 1)">37</text>
<path class="lt" d="M197,706 L201.5,710"/>
<g transform="translate(156.8 727) rotate(225) scale(0.9)"><path d="M-1.6,-1.3 L0.2,-2 L1.8,-1 L1.8,1.1 L0.2,2 L-1.6,1.3 Z" fill="#222"/><path d="M-1.6,-0.9 L-4.8,-0.8 Q-5.6,0 -4.8,0.8 L-1.6,0.9" fill="#fff" stroke="#333" stroke-width="0.65"/></g>
<text class="lb" transform="translate(142.5 721.5) scale(0.88 1)">37</text>
<path class="lt" d="M149.5,721 L155,725.5"/>
<g transform="translate(158.5 765.5) rotate(235) scale(0.85)"><path d="M-1.6,-1.3 L0.2,-2 L1.8,-1 L1.8,1.1 L0.2,2 L-1.6,1.3 Z" fill="#222"/><path d="M-1.6,-0.9 L-4.8,-0.8 Q-5.6,0 -4.8,0.8 L-1.6,0.9" fill="#fff" stroke="#333" stroke-width="0.65"/></g>
<text class="lb" transform="translate(145.0 759.0) scale(0.88 1)">37</text>
<path class="lt" d="M152.5,758 L157,764"/>
<g transform="translate(144.5 769) rotate(235) scale(0.85)"><path d="M-1.6,-1.3 L0.2,-2 L1.8,-1 L1.8,1.1 L0.2,2 L-1.6,1.3 Z" fill="#222"/><path d="M-1.6,-0.9 L-4.8,-0.8 Q-5.6,0 -4.8,0.8 L-1.6,0.9" fill="#fff" stroke="#333" stroke-width="0.65"/></g>
<text class="lb" transform="translate(133.5 763.0) scale(0.88 1)">37</text>
<path class="lt" d="M139,762.5 L143.5,768"/>
<g transform="translate(180.5 771.5) rotate(-20) scale(1.0)"><path d="M-1.6,-1.3 L0.2,-2 L1.8,-1 L1.8,1.1 L0.2,2 L-1.6,1.3 Z" fill="#222"/><path d="M-1.6,-0.9 L-4.8,-0.8 Q-5.6,0 -4.8,0.8 L-1.6,0.9" fill="#fff" stroke="#333" stroke-width="0.65"/></g>
<text class="lb" transform="translate(149.5 800.0) scale(0.88 1)">40</text>
<path class="lt" d="M158,795 L180,772"/>
<text class="lb" transform="translate(163.0 815.0) scale(0.88 1)">39</text>
<path class="lt" d="M172,809 L182,796"/>
<g transform="translate(206.5 813.6) rotate(-25) scale(0.9)"><path d="M-1.6,-1.3 L0.2,-2 L1.8,-1 L1.8,1.1 L0.2,2 L-1.6,1.3 Z" fill="#222"/><path d="M-1.6,-0.9 L-4.8,-0.8 Q-5.6,0 -4.8,0.8 L-1.6,0.9" fill="#fff" stroke="#333" stroke-width="0.65"/></g>
<text class="lb" transform="translate(193.0 828.0) scale(0.88 1)">39</text>
<path class="lt" d="M199,820 L205,815"/>
<g transform="translate(209.5 837.6) rotate(-25) scale(0.9)"><path d="M-1.6,-1.3 L0.2,-2 L1.8,-1 L1.8,1.1 L0.2,2 L-1.6,1.3 Z" fill="#222"/><path d="M-1.6,-0.9 L-4.8,-0.8 Q-5.6,0 -4.8,0.8 L-1.6,0.9" fill="#fff" stroke="#333" stroke-width="0.65"/></g>
<text class="lb" transform="translate(193.0 847.0) scale(0.88 1)">39</text>
<path class="lt" d="M201,841 L207,838"/>
<g transform="translate(222.5 844) rotate(-25) scale(0.85)"><path d="M-1.6,-1.3 L0.2,-2 L1.8,-1 L1.8,1.1 L0.2,2 L-1.6,1.3 Z" fill="#222"/><path d="M-1.6,-0.9 L-4.8,-0.8 Q-5.6,0 -4.8,0.8 L-1.6,0.9" fill="#fff" stroke="#333" stroke-width="0.65"/></g>
<text class="lb" transform="translate(209.0 855.5) scale(0.88 1)">37</text>
<path class="lt" d="M215.5,849 L221,845"/>
<!-- 34 bolts -->
<path class="f" d="M240,856.5 h2.5v4h-2.5z"/><path class="k" d="M240,860.5 h2.5v3.5h-2.5z"/>
<path class="f" d="M251,866 h2.5v4h-2.5z"/><path class="k" d="M251,870 h2.5v3.5h-2.5z"/>
<path class="f" d="M273.5,848.5 h2.5v4h-2.5z"/><path class="k" d="M273.5,852.5 h2.5v4h-2.5z"/>
<path class="f" d="M284.5,853.5 h2.5v4h-2.5z"/><path class="k" d="M284.5,857.5 h2.5v4h-2.5z"/>
<text class="lb" transform="translate(228.0 876.0) scale(0.88 1)">34</text>
<path class="lt" d="M236,869 L241,864"/>
<text class="lb" transform="translate(239.5 884.0) scale(0.88 1)">34</text>
<path class="lt" d="M247,877 L252,873.5"/>
<text class="lb" transform="translate(263.5 868.0) scale(0.88 1)">34</text>
<path class="lt" d="M271,861 L274.5,857"/>
<text class="lb" transform="translate(274.5 877.5) scale(0.88 1)">34</text>
<path class="lt" d="M282,870 L285.5,861.5"/>
</g>

<!-- ===== engine 47 ===== -->
<g id="p47">
<style>.e{fill:none;stroke:#2a2a2a;stroke-width:0.9;stroke-dasharray:1.2 0.7;stroke-linejoin:round}</style>
<!-- shroud back -->
<path class="e" d="M476.7,709.5 L502.2,696.3 L521.5,689.2 L540.8,697.3 L567.3,710.5 L568.3,747.2 L556.1,741 L556.1,750.2 L545.8,753"/>
<path class="e" d="M521.5,689.2 L526,694 L548,701 L567.3,710.5 M533.7,728.8 L567.3,710.5 M533.7,728.8 L534,752"/>
<path class="e" d="M515,693 L516,712 M526,694 L527,714 M537,698 L537,722 M546,701 L546,724 M556,706 L556,716"/>
<ellipse class="e" cx="518" cy="697" rx="5" ry="3"/>
<path class="e" d="M514,700 L530,693 L548,700 M520,716 L540,708 L548,712"/>
<!-- fins -->
<path class="e" d="M512.3,702 L512.3,747 M515.5,702 L515.5,746 M519,704 L519,745 M522.5,705 L522.5,743 M526,707 L526,741 M529.5,709 L529.5,739 M533,712 L533,737"/>
<path class="e" d="M510,722 L535,712 M510,730 L540,718 M510,738 L535,727 M510,746 L533.7,735"/>
<path class="e" d="M510,752 Q518,760 530,752 L545,745"/>
<!-- left block -->
<path class="e" d="M447.2,720.7 L471.6,708.5 L498.1,726.8 L475.7,738 Z"/>
<path class="e" d="M447.2,720.7 L447.2,735 L476.7,750.2 L498.1,739 L498.1,726.8 M475.7,738 L476.7,750.2"/>
<path class="e" d="M447.2,735 L447.2,745.1 L477.7,760.4 L499,750 M476.7,750.2 L477.7,760.4"/>
<path class="e" d="M455,725 L455,738 M468,732 L468,745 M482,735 L498,726.8"/>
<ellipse class="e" cx="468.6" cy="718.7" rx="8" ry="4"/>
<path class="e" d="M460.6,718.7 L460.6,725 Q468.6,730 476.6,725 L476.6,718.7"/>
<path class="e" d="M482,722 L490,715 L494,718 L487,728 Z"/>
<!-- filler tube -->
<ellipse class="e" cx="505.2" cy="713.6" rx="9.2" ry="4.2"/>
<path class="e" d="M496,713.6 L496,720 Q505.2,725 514.4,720 L514.4,713.6"/>
<path class="e" d="M501.7,723 L501.7,759 M508.5,723 L508.5,759"/>
<!-- recoil/left side -->
<path class="e" d="M447.2,745.1 L442.3,747.3 L440.5,765.4 L445.9,776.3 L458.6,784.5 L460,768 L462,752"/>
<path class="e" d="M450,748 L447,770 L452,779 M455.5,752 L454,780"/>
<!-- crankcase -->
<path class="e" d="M471.3,760 L469,790 M498.6,769.1 L500.4,820 L506.8,820 L544,803.6 L545.8,758.2 L534,750.9 L510,760 L498.6,769.1"/>
<path class="e" d="M506.8,820 L506,771 L545.8,758.2 M471.3,760 L498.6,769.1"/>
<path class="e" d="M462.3,776.3 L498,786 M462.3,781 L496,792 L496,800 L465,790"/>
<ellipse class="e" cx="464" cy="778.5" rx="2.5" ry="3.5"/>
<ellipse class="e" cx="497" cy="783" rx="3.5" ry="4.5"/>
<!-- foot -->
<path class="e" d="M465,796.3 L470.4,793.6 L498.6,808.1 L496.8,809 L495,820 L466.8,805.4 Z"/>
<path class="e" d="M465,796.3 L496.8,809"/>
<ellipse class="e" cx="478" cy="807" rx="1.3" ry="1.5"/>
<!-- shaft -->
<ellipse class="e" cx="513.1" cy="774.5" rx="5" ry="9" transform="rotate(-15 513.1 774.5)"/>
<ellipse class="e" cx="515" cy="775.5" rx="3" ry="6" transform="rotate(-15 515 775.5)"/>
<path class="e" d="M516.8,772 L544,787 M515.5,781 L541,795"/>
<ellipse class="e" cx="543" cy="791" rx="2.8" ry="4" transform="rotate(-25 543 791)"/>
<circle class="e" cx="537.7" cy="757.3" r="2.6"/>
<circle class="e" cx="527.7" cy="764.5" r="1.8"/>
<circle class="e" cx="512.2" cy="767.3" r="2.2"/>
<circle class="e" cx="511.3" cy="793.6" r="2.2"/>
<path class="lt" d="M559.8,751.3 L565.5,766.4"/>
<text class="lb" transform="translate(458 826.8) scale(0.8 1)" style="font-size:10px;font-weight:bold;stroke-width:0">47</text>
<path class="lt" d="M467.7,822.7 Q474,820 478.6,813.6"/>
<text class="big" x="561.5" y="785.5" textLength="22" lengthAdjust="spacing">*47</text>
<text class="big" x="561.5" y="805" textLength="86" lengthAdjust="spacing">See message</text>
<text class="big" x="561.5" y="825" textLength="84.5" lengthAdjust="spacing">for changing</text>
<text class="big" x="561.5" y="844.8" textLength="54.5" lengthAdjust="spacing">engines.</text>
</g>
</svg>
</body></html>
